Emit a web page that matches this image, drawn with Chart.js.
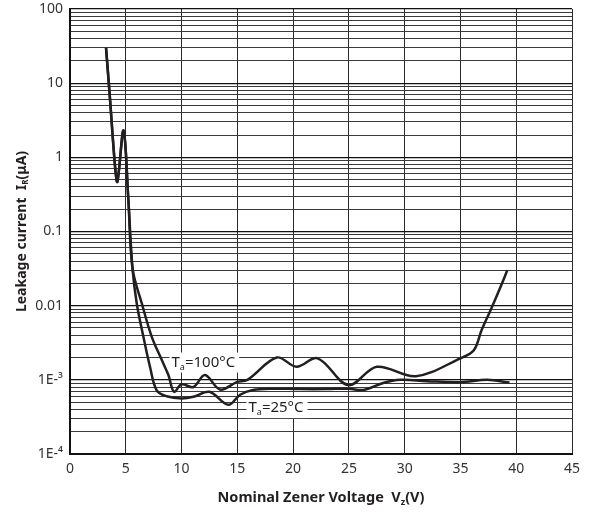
<!DOCTYPE html>
<html>
<head>
<meta charset="utf-8">
<script src="https://cdn.jsdelivr.net/npm/chart.js@4/dist/chart.umd.min.js"></script>
<style>
  html, body { margin: 0; padding: 0; background: #fff; }
  #wrap { width: 592px; height: 513px; }
</style>
</head>
<body>
<div id="wrap"><canvas id="leak"></canvas></div>
<script>
// Ta = 100°C curve (Vz in V, IR in uA)
var vz100 = [3.23, 3.59, 4.04, 4.25, 4.8, 5.23, 5.6, 6.43, 7.33, 8.22, 8.82, 9.33, 10.0, 11.06, 12.1, 13.45, 14.95, 15.9, 18.54, 20.3, 22.2, 24.96, 27.5, 31.0, 35.0, 36.2, 36.9, 37.7, 38.6, 39.2];
var ir100 = [30, 6, 0.75, 0.47, 2.3, 0.27, 0.032, 0.0108, 0.0038, 0.00186, 0.00116, 0.00069, 0.00087, 0.0008, 0.00116, 0.00074, 0.00093, 0.001, 0.002, 0.0015, 0.00195, 0.00085, 0.0015, 0.00112, 0.00195, 0.0025, 0.0047, 0.0087, 0.018, 0.03];

// Ta = 25°C curve
var vz25 = [3.23, 3.59, 4.04, 4.25, 4.8, 5.23, 5.6, 5.98, 6.58, 7.17, 7.77, 8.67, 10.0, 11.06, 12.5, 14.2, 15.25, 16.4, 18.0, 20.6, 23.0, 25.0, 26.3, 28.0, 29.6, 32.0, 35.0, 37.4, 39.4];
var ir25 = [30, 6, 0.75, 0.47, 2.3, 0.27, 0.032, 0.0108, 0.0038, 0.0015, 0.00072, 0.0006, 0.00056, 0.00059, 0.00069, 0.00046, 0.00063, 0.00073, 0.00076, 0.00075, 0.00075, 0.00076, 0.00073, 0.0009, 0.001, 0.00096, 0.00093, 0.001, 0.00092];

var xTicks = [0, 5, 10, 15, 20, 25, 30, 35, 40, 45];
var yDecades = [1e-4, 1e-3, 0.01, 0.1, 1, 10, 100];
var yLabels = ['1E-\u2074', '1E-\u00b3', '0.01', '0.1', '1', '10', '100'];

var labels = [
    {x: 9.1, y: 0.00171, main: 'T', sub: 'a', rest: '=100\u00b0C'},
    {x: 16.0, y: 0.000416, main: 'T', sub: 'a', rest: '=25\u00b0C'}
];

function pairs(xs, ys) {
    var out = [];
    for (var i = 0; i < xs.length; i++) out.push({x: xs[i], y: ys[i]});
    return out;
}

// every 1..9 x 10^n line for the log grid
var yTicks = [];
for (var d = 0; d < yDecades.length; d++) {
    for (var m = 1; m <= 9; m++) {
        if (d === yDecades.length - 1 && m > 1) break;
        yTicks.push(m * yDecades[d]);
    }
}

function isDecade(v) {
    var l = Math.log10(v);
    return Math.abs(l - Math.round(l)) < 1e-6;
}

// text with a lowered small part, e.g. I_R
function drawSub(ctx, parts, x, y, size, bold, align) {
    var w = 0;
    var f = (bold ? 'bold ' : '') + size + 'px "Noto Sans"';
    var fs = (bold ? 'bold ' : '') + Math.round(size * 0.6) + 'px "Noto Sans"';
    parts.forEach(function(p) {
        ctx.font = p.sub ? fs : f;
        w += ctx.measureText(p.t).width;
    });
    var cx = align === 'center' ? x - w / 2 : x;
    parts.forEach(function(p) {
        ctx.font = p.sub ? fs : f;
        ctx.fillText(p.t, cx, p.sub ? y + size * 0.3 : y);
        cx += ctx.measureText(p.t).width;
    });
    return w;
}

var extras = {
    id: 'extras',
    beforeDatasetsDraw: function(chart) {
        var ctx = chart.ctx;
        var xs = chart.scales.x, ys = chart.scales.y;
        ctx.save();
        ctx.textBaseline = 'middle';
        ctx.fillStyle = '#231f20';
        labels.forEach(function(l) {
            var px = xs.getPixelForValue(l.x), py = ys.getPixelForValue(l.y);
            var parts = [{t: l.main}, {t: l.sub, sub: true}, {t: l.rest}];
            ctx.font = '15px "Noto Sans"';
            var w = ctx.measureText(l.main + l.rest).width + ctx.measureText(l.sub).width * 0.6 + 4;
            ctx.fillStyle = '#fff';
            ctx.fillRect(px - 2, py - 10, w + 2, 20);
            ctx.fillStyle = '#231f20';
            drawSub(ctx, parts, px, py, 15, false, 'left');
        });
        ctx.restore();
    },
    afterDraw: function(chart) {
        var ctx = chart.ctx;
        var a = chart.chartArea;
        ctx.save();
        ctx.fillStyle = '#231f20';
        ctx.textBaseline = 'middle';
        drawSub(ctx, [{t: 'Nominal Zener Voltage  V'}, {t: 'z', sub: true}, {t: '(V)'}],
            (a.left + a.right) / 2, 498, 14.5, true, 'center');
        ctx.translate(22, (a.top + a.bottom) / 2);
        ctx.rotate(-Math.PI / 2);
        drawSub(ctx, [{t: 'Leakage current  I'}, {t: 'R', sub: true}, {t: '(\u03bcA)'}],
            0, 0, 14, true, 'center');
        ctx.restore();
    }
};

var ctx = document.getElementById('leak').getContext('2d');
var chart = new Chart(ctx, {
    type: 'line',
    data: {
        datasets: [{
            label: 'Ta=100°C',
            data: pairs(vz100, ir100),
            borderColor: '#231f20',
            borderWidth: 2.5,
            pointRadius: 0,
            tension: 0.35,
            fill: false
        }, {
            label: 'Ta=25°C',
            data: pairs(vz25, ir25),
            borderColor: '#231f20',
            borderWidth: 2.5,
            pointRadius: 0,
            tension: 0.35,
            fill: false
        }]
    },
    options: {
        responsive: true,
        maintainAspectRatio: false,
        animation: false,
        layout: {padding: {top: 0, right: 20, bottom: 0, left: 0}},
        plugins: {legend: {display: false}, tooltip: {enabled: false}},
        scales: {
            x: {
                type: 'linear',
                min: 0,
                max: 45,
                afterBuildTicks: function(scale) {
                    scale.ticks = xTicks.map(function(v) { return {value: v}; });
                },
                afterFit: function(scale) { scale.height = 59; },
                grid: {color: '#2b2b2b', lineWidth: 1, drawTicks: false},
                border: {color: '#111', width: 2},
                ticks: {
                    padding: 7,
                    color: '#333',
                    font: {family: 'Noto Sans', size: 14},
                    maxRotation: 0
                }
            },
            y: {
                type: 'logarithmic',
                min: 1e-4,
                max: 100,
                afterBuildTicks: function(scale) {
                    scale.ticks = yTicks.map(function(v) { return {value: v}; });
                },
                afterFit: function(scale) {
                    scale.width = 70;
                    scale.paddingTop = 9;
                },
                grid: {
                    color: function(c) { return c.tick && isDecade(c.tick.value) ? '#111' : '#3a3a3a'; },
                    lineWidth: function(c) { return c.tick && isDecade(c.tick.value) ? 1.3 : 1; },
                    drawTicks: false
                },
                border: {color: '#111', width: 2},
                ticks: {
                    autoSkip: false,
                    padding: 7,
                    color: '#333',
                    font: {family: 'Noto Sans', size: 14},
                    callback: function(v) {
                        for (var i = 0; i < yDecades.length; i++) {
                            if (Math.abs(v / yDecades[i] - 1) < 1e-6) return yLabels[i];
                        }
                        return '';
                    }
                }
            }
        }
    },
    plugins: [extras]
});
</script>
</body>
</html>
